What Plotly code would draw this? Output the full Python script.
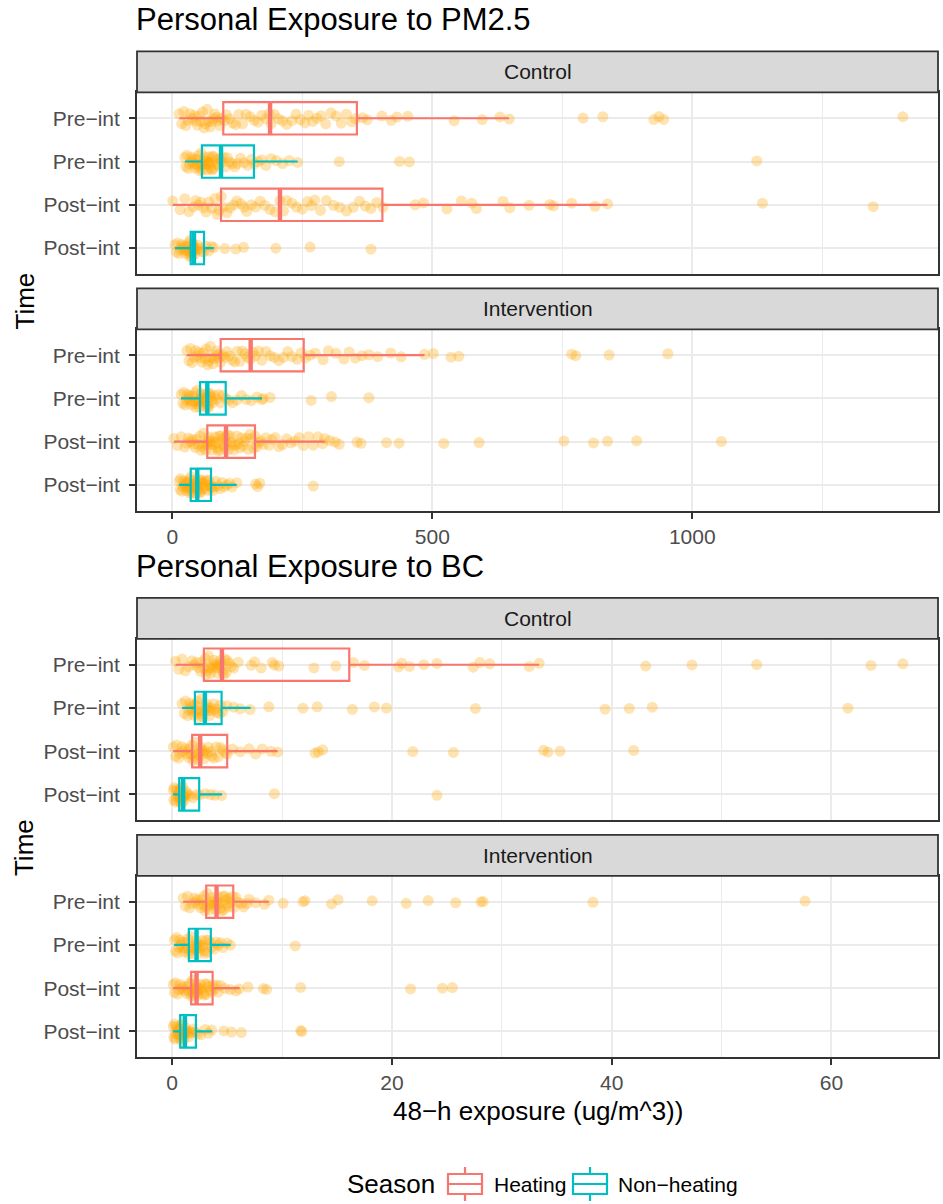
import plotly.graph_objects as go

FONT = "Liberation Sans, Arial, Helvetica, sans-serif"
W, H = 943, 1204

# ---------------------------------------------------------------- data
row_labels = ["Pre\u2212int", "Pre\u2212int", "Post\u2212int", "Post\u2212int"]
row_season = ["Heating", "Non\u2212heating", "Heating", "Non\u2212heating"]
season_names = ["Heating", "Non\u2212heating"]
season_colors = ["#F8766D", "#00BFC4"]

pm25_ticks = [0, 500, 1000]
bc_ticks = [0, 20, 40, 60]

# PM2.5, Control group
pm25_ctrl_pre_heat = [13, 18, 22, 26, 30, 34, 38, 42, 45, 48, 52, 55, 58, 61, 64, 67, 70, 73, 76, 79, 82,
                      85, 88, 92, 95, 100, 104, 110, 116, 122, 128, 135, 142, 150, 158, 165, 172, 180, 186,
                      190, 196, 204, 212, 220, 230, 238, 246, 255, 262, 270, 278, 286, 295, 305, 315, 325,
                      335, 345, 352, 366, 375, 403, 421, 432, 453, 542, 596, 630, 648, 790, 828, 926, 936,
                      945, 1405]
pm25_ctrl_pre_nonheat = [24, 26, 28, 31, 33, 36, 38, 40, 42, 44, 46, 48, 50, 52, 53, 55, 56, 58, 59, 61, 62,
                         64, 65, 67, 68, 70, 71, 73, 74, 76, 77, 79, 80, 83, 86, 89, 92, 95, 98, 102, 106,
                         110, 115, 120, 125, 131, 138, 145, 152, 158, 165, 172, 180, 190, 200, 212, 225, 241,
                         321, 437, 456, 1124]
pm25_ctrl_post_heat = [0.7, 15, 24, 32, 40, 45, 50, 55, 60, 65, 70, 76, 82, 86, 90, 94, 98, 105, 111, 118,
                       124, 132, 138, 143, 152, 160, 169, 178, 188, 198, 207, 214, 220, 230, 239, 250, 260,
                       268, 274, 285, 296, 310, 322, 335, 348, 360, 371, 382, 393, 405, 467, 483, 528, 556,
                       576, 585, 636, 649, 686, 726, 733, 768, 813, 837, 1135, 1348]
pm25_ctrl_post_nonheat = [5, 8, 10, 13, 15, 18, 20, 22, 24, 26, 28, 30, 31, 33, 34, 35, 36, 37, 38, 39, 40,
                          41, 42, 43, 44, 46, 49, 52, 56, 60, 64, 70, 75, 80, 101, 122, 137, 199, 265, 382]

# PM2.5, Intervention group
pm25_intv_pre_heat = [28, 32, 35, 38, 42, 45, 48, 51, 54, 57, 60, 63, 65, 68, 70, 73, 75, 78, 80, 83, 85,
                      88, 90, 93, 97, 101, 105, 110, 115, 120, 125, 130, 135, 140, 145, 150, 155, 160, 166,
                      172, 180, 188, 196, 205, 214, 222, 230, 240, 248, 256, 265, 275, 290, 300, 315, 330,
                      340, 352, 365, 378, 395, 420, 440, 485, 502, 536, 551, 768, 776, 840, 953]
pm25_intv_pre_nonheat = [17, 20, 22, 25, 27, 29, 31, 33, 35, 37, 39, 41, 43, 45, 46, 48, 49, 51, 52, 54, 55,
                         57, 58, 60, 61, 62, 64, 65, 67, 68, 69, 71, 72, 74, 75, 78, 81, 85, 89, 93, 98, 103,
                         109, 116, 124, 133, 142, 152, 163, 172, 175, 188, 267, 306, 378]
pm25_intv_post_heat = [3, 10, 17, 24, 28, 31, 35, 38, 41, 44, 47, 50, 53, 55, 58, 60, 62, 64, 66, 68, 70,
                       72, 74, 76, 78, 80, 82, 84, 86, 88, 90, 92, 94, 96, 98, 100, 102, 104, 106, 108, 111,
                       113, 116, 118, 121, 124, 127, 130, 133, 136, 139, 142, 146, 149, 152, 156, 159, 162,
                       166, 170, 175, 180, 186, 192, 198, 205, 212, 220, 228, 236, 244, 252, 262, 271, 280,
                       289, 293, 303, 313, 321, 355, 363, 412, 436, 522, 590, 753, 810, 837, 893, 1056]
pm25_intv_post_nonheat = [13, 15, 16, 18, 20, 22, 24, 25, 27, 28, 30, 31, 33, 34, 35, 36, 37, 39, 40, 41, 42,
                          43, 44, 45, 46, 47, 48, 49, 50, 52, 53, 55, 56, 58, 59, 61, 63, 65, 67, 69, 71, 73,
                          75, 78, 80, 84, 88, 92, 96, 100, 105, 110, 115, 124, 160, 164, 168, 271]

# BC, Control group
bc_ctrl_pre_heat = [0.3, 0.6, 0.9, 1.2, 1.5, 1.8, 2.0, 2.2, 2.4, 2.6, 2.7, 2.9, 3.0, 3.1, 3.2, 3.3, 3.4,
                    3.5, 3.6, 3.7, 3.8, 3.9, 4.0, 4.1, 4.2, 4.3, 4.4, 4.5, 4.6, 4.7, 4.8, 4.9, 5.0, 5.2,
                    5.4, 5.6, 6.0, 7.2, 7.5, 8.1, 9.1, 9.3, 9.7, 12.9, 14.9, 16.5, 17.5, 20.6, 20.9, 21.6,
                    22.9, 24.1, 27.4, 28.0, 28.9, 32.5, 33.4, 43.1, 47.3, 53.2, 63.6, 66.5]
bc_ctrl_pre_nonheat = [0.9, 1.1, 1.2, 1.4, 1.5, 1.6, 1.7, 1.8, 1.9, 2.0, 2.1, 2.2, 2.3, 2.4, 2.5, 2.6,
                       2.7, 2.8, 2.9, 3.0, 3.1, 3.2, 3.3, 3.4, 3.5, 3.6, 3.8, 4.0, 4.1, 4.3, 4.4, 4.6, 5.0,
                       5.6, 6.2, 7.1, 8.8, 11.9, 13.2, 16.4, 18.4, 19.5, 27.6, 39.4, 41.6, 43.7, 61.5]
bc_ctrl_post_heat = [0.1, 0.3, 0.4, 0.6, 0.7, 0.9, 1.0, 1.2, 1.3, 1.5, 1.6, 1.7, 1.8, 1.9, 2.0, 2.1, 2.2,
                     2.3, 2.4, 2.5, 2.6, 2.7, 2.8, 2.9, 3.0, 3.2, 3.3, 3.5, 3.6, 3.8, 4.0, 4.2, 4.4, 4.6,
                     4.8, 5.0, 5.5, 6.2, 7.0, 7.6, 8.2, 9.0, 9.6, 13.0, 13.3, 13.7, 21.9, 25.6, 33.8, 34.2,
                     35.3, 42.0]
bc_ctrl_post_nonheat = [0.1, 0.15, 0.2, 0.3, 0.35, 0.45, 0.5, 0.55, 0.6, 0.65, 0.7, 0.75, 0.8, 0.85, 0.9,
                        0.95, 1.0, 1.05, 1.1, 1.2, 1.3, 1.4, 1.6, 1.9, 2.2, 2.5, 3.0, 3.5, 3.9, 4.5, 9.3, 24.1]

# BC, Intervention group
bc_intv_pre_heat = [1.0, 1.2, 1.4, 1.6, 1.8, 2.0, 2.1, 2.3, 2.4, 2.6, 2.7, 2.8, 2.9, 3.0, 3.1, 3.2, 3.3,
                    3.4, 3.5, 3.6, 3.7, 3.8, 3.9, 4.0, 4.05, 4.1, 4.2, 4.3, 4.4, 4.5, 4.6, 4.7, 4.8, 4.9,
                    5.0, 5.1, 5.2, 5.3, 5.5, 5.6, 5.8, 6.0, 6.3, 6.5, 6.8, 7.0, 7.6, 8.4, 8.8, 10.1, 11.9,
                    12.1, 14.5, 15.1, 18.2, 21.3, 23.3, 25.8, 28.1, 28.3, 38.3, 57.6]
bc_intv_pre_nonheat = [0.2, 0.3, 0.4, 0.5, 0.6, 0.7, 0.8, 0.9, 1.0, 1.1, 1.2, 1.3, 1.4, 1.5, 1.6, 1.7, 1.8,
                       1.9, 2.0, 2.1, 2.2, 2.25, 2.3, 2.4, 2.5, 2.6, 2.7, 2.8, 2.9, 3.0, 3.1, 3.2, 3.3, 3.5,
                       3.6, 3.8, 4.0, 4.2, 4.4, 4.6, 5.0, 5.3, 11.2]
bc_intv_post_heat = [0.1, 0.2, 0.3, 0.5, 0.6, 0.7, 0.9, 1.0, 1.1, 1.3, 1.4, 1.5, 1.6, 1.7, 1.8, 1.85, 1.9,
                     2.0, 2.05, 2.1, 2.15, 2.2, 2.25, 2.3, 2.4, 2.5, 2.6, 2.7, 2.8, 2.9, 3.0, 3.1, 3.2, 3.3,
                     3.5, 3.6, 3.7, 3.9, 4.0, 4.2, 4.4, 4.8, 5.3, 5.8, 6.1, 6.9, 8.3, 8.6, 11.7, 21.7, 24.6,
                     25.5]
bc_intv_post_nonheat = [0.1, 0.15, 0.2, 0.25, 0.3, 0.4, 0.45, 0.5, 0.6, 0.65, 0.7, 0.75, 0.8, 0.85, 0.9,
                        0.95, 1.0, 1.05, 1.1, 1.15, 1.2, 1.3, 1.4, 1.5, 1.6, 1.7, 1.9, 2.1, 2.3, 2.6, 3.0,
                        3.3, 3.6, 4.7, 5.4, 6.3, 11.7, 11.8]

# Box summaries per row: (lower whisker, Q1, median, Q3, upper whisker)
pm25_ctrl_box = [(13.5, 98, 188, 355, 647.5), (24.4, 57, 93.7, 157, 241),
                 (0.7, 93.7, 207, 404, 837), (5.2, 35.4, 41.7, 61, 80)]
pm25_intv_box = [(27.6, 93, 150.7, 252.7, 485), (16.7, 53.3, 67.3, 102.7, 172.5),
                 (3.3, 67.3, 103.3, 159, 293), (12.9, 35.4, 48, 74.4, 123.8)]
bc_ctrl_box = [(0.31, 2.89, 4.53, 16.12, 33.4), (0.91, 2.07, 2.98, 4.5, 7.14),
               (0.09, 1.82, 2.55, 5.01, 9.6), (0.09, 0.64, 1.0, 2.46, 4.55)]
bc_intv_box = [(1.0, 3.1, 4.04, 5.56, 8.8), (0.18, 1.52, 2.22, 3.52, 5.32),
               (0.09, 1.73, 2.22, 3.68, 6.14), (0.09, 0.73, 1.16, 2.16, 3.64)]

panels = [
    dict(strip="Control", points=[pm25_ctrl_pre_heat, pm25_ctrl_pre_nonheat, pm25_ctrl_post_heat,
                                  pm25_ctrl_post_nonheat], box=pm25_ctrl_box),
    dict(strip="Intervention", points=[pm25_intv_pre_heat, pm25_intv_pre_nonheat, pm25_intv_post_heat,
                                       pm25_intv_post_nonheat], box=pm25_intv_box),
    dict(strip="Control", points=[bc_ctrl_pre_heat, bc_ctrl_pre_nonheat, bc_ctrl_post_heat,
                                  bc_ctrl_post_nonheat], box=bc_ctrl_box),
    dict(strip="Intervention", points=[bc_intv_pre_heat, bc_intv_pre_nonheat, bc_intv_post_heat,
                                       bc_intv_post_nonheat], box=bc_intv_box),
]

# ---------------------------------------------------------------- layout geometry (pixels)
PLOT_L, PLOT_R = 137, 938
panel_px = [(92.3, 274.0), (329.3, 510.7), (638.8, 820.3), (875.8, 1057.3)]
STRIP_H = 41.0
BOX_W = 0.75
LINE_W = 2.2
row_pos = [len(row_labels) - i for i in range(len(row_labels))]

SMALL = 21     # tick, strip and legend text
BASE = 26      # axis titles, legend title
TITLE = 31     # plot titles


def fx(px):
    return px / W


def fy(py):
    return 1 - py / H


def season_color(name):
    return season_colors[season_names.index(name)]


fig = go.Figure()

# jittered observations
for p, panel in enumerate(panels):
    ax = "" if p == 0 else str(p + 1)
    for r, vals in enumerate(panel["points"]):
        fig.add_trace(go.Box(
            x=vals, y0=row_pos[r], orientation="h", width=BOX_W,
            boxpoints="all", jitter=0.62, pointpos=0,
            line=dict(width=0, color="rgba(0,0,0,0)"), fillcolor="rgba(0,0,0,0)",
            marker=dict(color="rgba(255,165,0,0.3)", size=11, line=dict(width=0)),
            showlegend=False, hoverinfo="x",
            xaxis="x" + ax, yaxis="y" + ax,
        ))

# boxes
for p, panel in enumerate(panels):
    ax = "" if p == 0 else str(p + 1)
    for r, (lo, q1, med, q3, hi) in enumerate(panel["box"]):
        season = row_season[r]
        col = season_color(season)
        fig.add_trace(go.Box(
            y=[row_pos[r]], q1=[q1], median=[med], q3=[q3], lowerfence=[lo], upperfence=[hi],
            orientation="h", width=BOX_W, whiskerwidth=0, boxpoints=False,
            line=dict(color=col, width=LINE_W), fillcolor="rgba(255,255,255,0)",
            name=season, showlegend=False,
            xaxis="x" + ax, yaxis="y" + ax,
        ))
        # heavier median bar
        fig.add_trace(go.Scatter(
            x=[med, med], y=[row_pos[r] - BOX_W / 2, row_pos[r] + BOX_W / 2],
            mode="lines", line=dict(color=col, width=2 * LINE_W),
            showlegend=False, hoverinfo="skip",
            xaxis="x" + ax, yaxis="y" + ax,
        ))

# ---------------------------------------------------------------- axes
grid = "#EBEBEB"
frame = "#333333"
axis_common = dict(showline=True, mirror=True, linecolor=frame, linewidth=1.8,
                   zeroline=False, gridcolor=grid, gridwidth=2)
layout_axes = {}
for p in range(4):
    ax = "" if p == 0 else str(p + 1)
    y0, y1 = panel_px[p]
    is_bc = p >= 2
    show_ticks = p in (1, 3)
    xr = [-3.2, 69.7] if is_bc else [-67.9, 1472.5]
    ticks = bc_ticks if is_bc else pm25_ticks
    layout_axes["xaxis" + ax] = dict(
        axis_common, domain=[fx(PLOT_L), fx(PLOT_R)], anchor="y" + ax, range=xr,
        tickvals=ticks, ticktext=[str(t) for t in ticks],
        showticklabels=show_ticks, ticks="outside" if show_ticks else "",
        ticklen=6, tickwidth=1.8, tickcolor=frame,
        tickfont=dict(size=SMALL, color="#4D4D4D", family=FONT),
        minor=dict(tickvals=[10, 30, 50] if is_bc else [250, 750, 1250],
                   showgrid=True, gridcolor=grid, gridwidth=1.1, ticks=""),
    )
    layout_axes["yaxis" + ax] = dict(
        axis_common, domain=[fy(y1), fy(y0)], anchor="x" + ax, range=[0.4, 4.6],
        tickvals=row_pos, ticktext=row_labels, ticks="outside", ticklen=6, tickwidth=1.8,
        tickcolor=frame, tickfont=dict(size=SMALL, color="#4D4D4D", family=FONT),
        ticklabelstandoff=5,
    )

# ---------------------------------------------------------------- strips, titles
shapes, annotations = [], []
for p, panel in enumerate(panels):
    top = panel_px[p][0]
    shapes.append(dict(type="rect", xref="paper", yref="paper",
                       x0=fx(PLOT_L), x1=fx(PLOT_R), y0=fy(top), y1=fy(top - STRIP_H),
                       fillcolor="#D9D9D9", line=dict(color=frame, width=1.8), layer="above"))
    annotations.append(dict(text=panel["strip"], xref="paper", yref="paper",
                            x=fx((PLOT_L + PLOT_R) / 2), y=fy(top - STRIP_H / 2),
                            showarrow=False, font=dict(size=SMALL, color="#1A1A1A", family=FONT),
                            xanchor="center", yanchor="middle"))

for text, ypx in [("Personal Exposure to PM2.5", 20), ("Personal Exposure to BC", 566)]:
    annotations.append(dict(text=text, xref="paper", yref="paper", x=fx(PLOT_L - 3), y=fy(ypx),
                            showarrow=False, xanchor="left", yanchor="middle",
                            font=dict(size=TITLE, color="black", family=FONT)))

for ypx in [(panel_px[0][0] + panel_px[1][1]) / 2, (panel_px[2][0] + panel_px[3][1]) / 2]:
    annotations.append(dict(text="Time", xref="paper", yref="paper", x=fx(24), y=fy(ypx),
                            showarrow=False, textangle=-90, xanchor="center", yanchor="middle",
                            font=dict(size=BASE, color="black", family=FONT)))

annotations.append(dict(text="48\u2212h exposure (ug/m^3))", xref="paper", yref="paper",
                        x=fx((PLOT_L + PLOT_R) / 2), y=fy(1111), showarrow=False,
                        xanchor="center", yanchor="middle",
                        font=dict(size=BASE, color="black", family=FONT)))

# ---------------------------------------------------------------- legend (box keys)
LEG_Y = 1184
annotations.append(dict(text="Season", xref="paper", yref="paper", x=fx(345), y=fy(LEG_Y),
                        showarrow=False, xanchor="left", yanchor="middle",
                        font=dict(size=BASE, color="black", family=FONT)))
key_left = [448, 573]
label_left = [492, 616]
for name, kx, lx in zip(season_names, key_left, label_left):
    col = season_color(name)
    kw, kh = 34, 20
    cx = kx + kw / 2
    shapes.append(dict(type="rect", xref="paper", yref="paper",
                       x0=fx(kx), x1=fx(kx + kw), y0=fy(LEG_Y + kh / 2), y1=fy(LEG_Y - kh / 2),
                       line=dict(color=col, width=LINE_W), fillcolor="white"))
    shapes.append(dict(type="line", xref="paper", yref="paper",
                       x0=fx(kx), x1=fx(kx + kw), y0=fy(LEG_Y), y1=fy(LEG_Y),
                       line=dict(color=col, width=LINE_W)))
    shapes.append(dict(type="line", xref="paper", yref="paper",
                       x0=fx(cx), x1=fx(cx), y0=fy(LEG_Y - kh / 2), y1=fy(LEG_Y - kh / 2 - 7),
                       line=dict(color=col, width=LINE_W)))
    shapes.append(dict(type="line", xref="paper", yref="paper",
                       x0=fx(cx), x1=fx(cx), y0=fy(LEG_Y + kh / 2), y1=fy(LEG_Y + kh / 2 + 7),
                       line=dict(color=col, width=LINE_W)))
    annotations.append(dict(text=name, xref="paper", yref="paper", x=fx(lx), y=fy(LEG_Y),
                            showarrow=False, xanchor="left", yanchor="middle",
                            font=dict(size=SMALL, color="black", family=FONT)))

fig.update_layout(
    width=W, height=H, autosize=False,
    margin=dict(l=0, r=0, t=0, b=0),
    paper_bgcolor="white", plot_bgcolor="white",
    font=dict(family=FONT, color="black"),
    boxmode="overlay", showlegend=False,
    shapes=shapes, annotations=annotations,
    **layout_axes,
)

fig.write_html("out.html")
